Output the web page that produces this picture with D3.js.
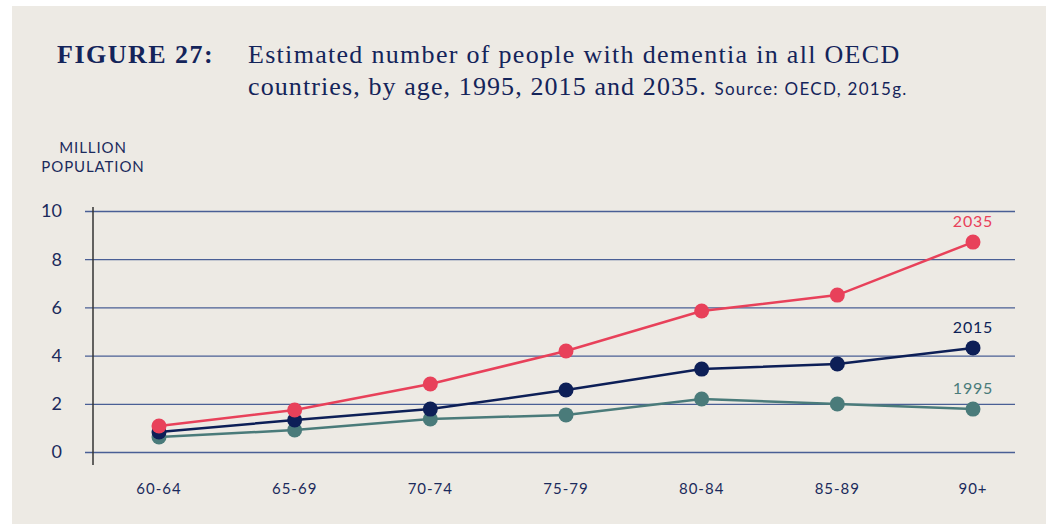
<!DOCTYPE html>
<meta charset="utf-8">
<style>
  body { margin: 0; background: #fff; }
  .grid line { stroke: #4a5f95; stroke-width: 1.3; }
  .grid path { display: none; }
  .ytick text, .xtick text { fill: #1b2a5c; font-family: Lato, "Noto Sans", sans-serif; }
</style>
<script src="https://d3js.org/d3.v7.min.js"></script>
<div id="chart"></div>
<script>
// age groups and series (million people)
var ageGroups = ["60-64", "65-69", "70-74", "75-79", "80-84", "85-89", "90+"];
var years = ["1995", "2015", "2035"];
var values1995 = [0.62, 0.91, 1.37, 1.54, 2.20, 1.99, 1.78];
var values2015 = [0.83, 1.33, 1.78, 2.57, 3.44, 3.65, 4.32];
var values2035 = [1.08, 1.74, 2.82, 4.19, 5.85, 6.51, 8.71];
var yTicks = [0, 2, 4, 6, 8, 10];
var colors = {"1995": "#4a7b7a", "2015": "#0d1f57", "2035": "#e8415a"};

var series = [
  {year: "1995", values: values1995},
  {year: "2015", values: values2015},
  {year: "2035", values: values2035}
];

var W = 1051, H = 524;
var svg = d3.select("#chart").append("svg")
  .attr("width", W).attr("height", H);

// beige panel
svg.append("rect")
  .attr("x", 12).attr("y", 6)
  .attr("width", 1034).attr("height", H - 6)
  .attr("fill", "#edeae4");

// title
svg.append("text")
  .attr("x", 57).attr("y", 63)
  .attr("font-family", "'Liberation Serif', serif")
  .attr("font-weight", "bold")
  .attr("font-size", 26)
  .attr("letter-spacing", 1.5)
  .attr("fill", "#14245a")
  .text("FIGURE 27:");

var t1 = svg.append("text")
  .attr("x", 248).attr("y", 63)
  .attr("font-family", "'Liberation Serif', serif")
  .attr("font-size", 26)
  .attr("letter-spacing", 1.3)
  .attr("fill", "#14245a")
  .text("Estimated number of people with dementia in all OECD");

var t2 = svg.append("text")
  .attr("x", 248).attr("y", 95)
  .attr("font-family", "'Liberation Serif', serif")
  .attr("font-size", 26)
  .attr("letter-spacing", 1.1)
  .attr("fill", "#14245a");
t2.append("tspan").text("countries, by age, 1995, 2015 and 2035. ");
t2.append("tspan")
  .attr("font-family", "Lato, 'Noto Sans', sans-serif")
  .attr("font-size", 17)
  .attr("letter-spacing", 1.3)
  .text("Source: OECD, 2015g.");

// y axis title
svg.append("text")
  .attr("x", 93).attr("y", 153)
  .attr("text-anchor", "middle")
  .attr("font-family", "Lato, 'Noto Sans', sans-serif")
  .attr("font-size", 15)
  .attr("letter-spacing", 0.9)
  .attr("fill", "#1b2a5c")
  .text("MILLION");
svg.append("text")
  .attr("x", 93).attr("y", 172)
  .attr("text-anchor", "middle")
  .attr("font-family", "Lato, 'Noto Sans', sans-serif")
  .attr("font-size", 15)
  .attr("letter-spacing", 0.9)
  .attr("fill", "#1b2a5c")
  .text("POPULATION");

// scales
var x = d3.scalePoint()
  .domain(ageGroups)
  .range([159, 973]);
var y = d3.scaleLinear()
  .domain([0, 10])
  .range([452, 211]);

// horizontal gridlines
svg.append("g")
  .attr("class", "grid")
  .attr("transform", "translate(85,0)")
  .call(d3.axisRight(y).tickValues(yTicks).tickSize(930).tickFormat(""));

// y tick labels
svg.append("g")
  .attr("class", "ytick")
  .selectAll("text")
  .data(yTicks)
  .join("text")
  .attr("x", 62)
  .attr("y", function(d) { return y(d); })
  .attr("dy", "0.35em")
  .attr("text-anchor", "end")
  .attr("font-size", 18)
  .text(function(d) { return d; });

// vertical axis line
svg.append("line")
  .attr("x1", 93).attr("x2", 93)
  .attr("y1", 207).attr("y2", 465)
  .attr("stroke", "#333")
  .attr("stroke-width", 1.5);

// x labels
svg.append("g")
  .attr("class", "xtick")
  .selectAll("text")
  .data(ageGroups)
  .join("text")
  .attr("x", function(d) { return x(d); })
  .attr("y", 494)
  .attr("text-anchor", "middle")
  .attr("font-size", 15)
  .attr("letter-spacing", 1)
  .text(function(d) { return d; });

// lines + dots
var line = d3.line()
  .x(function(d, i) { return x(ageGroups[i]); })
  .y(function(d) { return y(d); });

var g = svg.selectAll(".series")
  .data(series)
  .join("g")
  .attr("class", "series");

g.append("path")
  .attr("d", function(d) { return line(d.values); })
  .attr("fill", "none")
  .attr("stroke", function(d) { return colors[d.year]; })
  .attr("stroke-width", 2.5);

g.selectAll("circle")
  .data(function(d) { return d.values.map(function(v, i) { return {v: v, i: i, year: d.year}; }); })
  .join("circle")
  .attr("cx", function(d) { return x(ageGroups[d.i]); })
  .attr("cy", function(d) { return y(d.v); })
  .attr("r", 7.5)
  .attr("fill", function(d) { return colors[d.year]; });

// series labels at end
g.append("text")
  .attr("x", 973)
  .attr("y", function(d) { return y(d.values[d.values.length - 1]) - 15; })
  .attr("text-anchor", "middle")
  .attr("font-family", "Lato, 'Noto Sans', sans-serif")
  .attr("font-size", 16)
  .attr("letter-spacing", 0.8)
  .attr("fill", function(d) { return colors[d.year]; })
  .text(function(d) { return d.year; });
</script>
